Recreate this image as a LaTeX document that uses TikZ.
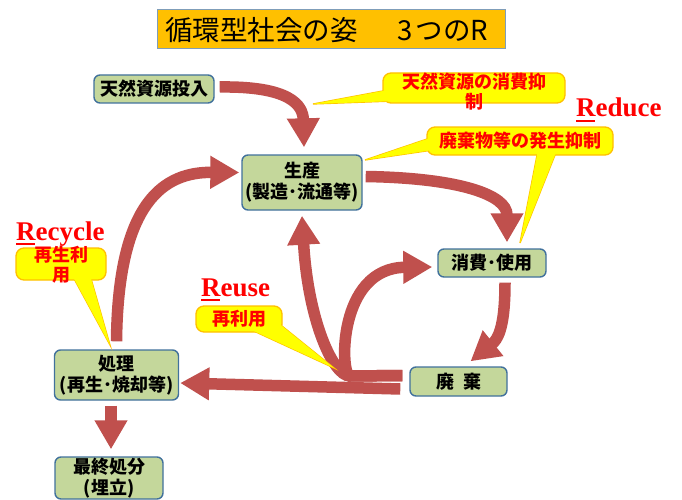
\documentclass[tikz,border=0pt]{standalone}
\usepackage{fontspec}
\setmainfont{Liberation Serif}
\newfontfamily\jp{Noto Sans CJK JP}
\usetikzlibrary{arrows.meta}
\definecolor{arrowred}{HTML}{C0504D}
\definecolor{nodefill}{HTML}{C4D79B}
\definecolor{nodeline}{HTML}{41719C}
\definecolor{titlefill}{HTML}{FFC000}
\definecolor{titleline}{HTML}{7F9DB9}
\definecolor{callfill}{HTML}{FFFF00}
\definecolor{callline}{HTML}{FFC000}
\definecolor{textred}{HTML}{FF0000}
\newcommand\ulR{\rlap{\rule[-5pt]{0.68em}{1.8pt}}R}
\begin{document}
\begin{tikzpicture}[x=1pt,y=-1pt,
  box/.style={draw=nodeline, fill=nodefill, line width=1.4pt, rounded corners=6pt,
    inner sep=0pt, align=center, font=\jp\bfseries\fontsize{18}{21}\selectfont},
  bigarrow/.style={draw=arrowred, line width=11.5pt, -{Triangle[width=31pt,length=29pt]}},
  callbox/.style={draw=callline, fill=callfill, line width=1.3pt, rounded corners=8pt},
  wedge/.style={draw=callline, fill=callfill, line width=1.3pt, line join=miter},
  calltext/.style={text=textred, align=center, inner sep=0pt,
    font=\jp\bfseries\fontsize{18}{20}\selectfont},
  rword/.style={text=textred, anchor=base west, inner sep=0pt,
    font=\bfseries\fontsize{27}{30}\selectfont}]
\useasboundingbox[fill=white] (0,0) rectangle (682,500);

% title
\node[draw=titleline, fill=titlefill, line width=1pt, minimum width=348pt, minimum height=39pt,
  inner sep=0pt] (T) at (331,29.5) {};
\node[anchor=west, inner sep=0pt, font=\jp\fontsize{27.5}{30}\selectfont] (TT) at (165,30)
  {循環型社会の姿\hspace{40pt}3\hspace{3pt}つのR};

% process boxes
\node[box, minimum width=120pt, minimum height=28pt] (A) at (154,89) {天然資源投入};
\node[box, minimum width=120pt, minimum height=55pt] (B) at (302,182.5) {生産\\(製造･流通等)};
\node[box, minimum width=108pt, minimum height=28pt] (C) at (492,263) {消費･使用};
\node[box, minimum width=97pt, minimum height=29pt] (D) at (458.5,381.5) {廃\hspace{0.5em}棄};
\node[box, minimum width=124pt, minimum height=50pt] (E) at (116.5,375) {処理\\(再生･焼却等)};
\node[box, minimum width=108pt, minimum height=42pt] (F) at (109,478) {最終処分\\(埋立)};

% arrows
\draw[bigarrow] ([xshift=5pt,yshift=2pt]A.east) .. controls (290,86) and (303,105) .. ([xshift=2pt,yshift=7pt]B.north);
\draw[bigarrow] ([xshift=3pt,yshift=6pt]B.east) .. controls (460,178) and (507,195) .. ([xshift=15pt,yshift=6pt]C.north);
\draw[bigarrow] ([xshift=13pt,yshift=-5pt]C.south) .. controls (505,330) and (497,340) .. ([xshift=12pt,yshift=5pt]D.north);
\draw[bigarrow] ([xshift=-7pt,yshift=6pt]D.west) -- (350,376) .. controls (333,376) and (308,320) .. ([yshift=-5pt]B.south);
\draw[bigarrow] ([xshift=-7pt,yshift=6pt]D.west) -- (350,376) .. controls (340,376) and (337,268) .. ([xshift=-5pt,yshift=-4pt]C.west);
\draw[bigarrow] ([xshift=-9pt,yshift=-7.5pt]D.west) -- ([xshift=1pt,yshift=-8pt]E.east);
\draw[bigarrow] ([yshift=8pt]E.north) .. controls (118,200) and (165,172) .. ([xshift=-2pt,yshift=10pt]B.west);
\draw[bigarrow] ([xshift=-5.5pt,yshift=-5pt]E.south) -- ([xshift=2pt,yshift=7pt]F.north);

% callout 1
\draw[wedge] (388,90) -- (313,104) -- (395,101) -- cycle;
\draw[callbox] (383,73) rectangle (565,103);
\fill[callfill] (388,90) -- (313,104) -- (395,101) -- cycle;
\node[calltext] (K1) at (474,92) {天然資源の消費抑\\制};

% callout 2
\draw[wedge] (433,137) -- (365,160) -- (433,150) -- cycle;
\draw[wedge] (538,150) -- (520,243) -- (557,150) -- cycle;
\draw[callbox] (427,127) rectangle (613,155);
\fill[callfill] (433,137) -- (365,160) -- (433,150) -- cycle;
\fill[callfill] (538,150) -- (520,243) -- (557,150) -- cycle;
\node[calltext] (K2) at (520,141) {廃棄物等の発生抑制};

% callout 3
\draw[wedge] (72,275) -- (110,345) -- (90,275) -- cycle;
\draw[callbox] (16,248) rectangle (106,280);
\fill[callfill] (72,275) -- (110,345) -- (90,275) -- cycle;
\node[calltext] (K3) at (61,265) {再生利\\用};

% callout 4
\draw[wedge] (245,327) -- (334,368) -- (277,322) -- cycle;
\draw[callbox] (196,306) rectangle (282,332);
\fill[callfill] (245,327) -- (334,368) -- (277,322) -- cycle;
\node[calltext] (K4) at (239,319) {再利用};

% R words
\node[rword] (RD) at (576,117) {\ulR educe};
\node[rword] (RC) at (16,240) {\ulR ecycle};
\node[rword] (RU) at (201,296) {\ulR euse};
\end{tikzpicture}
\end{document}
